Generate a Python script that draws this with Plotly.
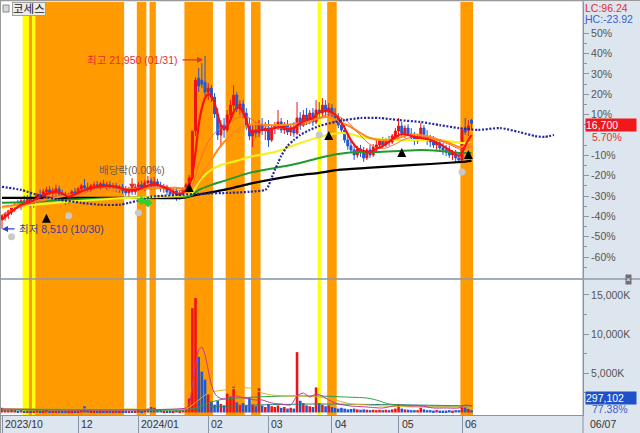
import plotly.graph_objects as go

# ---------------- data ----------------
BASE = 15800  # 0% reference price of the right axis

open_ = [9220, 9450, 9680, 9840, 10150, 10380, 10220, 10690, 10530, 10920,
         10460, 10770, 11150, 10920, 11390, 11540, 11310, 11460, 11620, 11230,
         11000, 10770, 11150, 11390, 11230, 11620, 11850, 11700, 11540, 11850,
         11930, 11770, 12010, 11850, 11930, 11770, 11850, 11620, 11770, 11460,
         11310, 11540, 11390, 11770, 11930, 11700, 12080, 12240, 11770, 12160,
         11850, 11620, 11770, 11390, 11230, 11460, 10920, 11310, 11620, 11930,
         12470, 16150, 20210, 20060, 19900, 19130, 19440, 18740, 17430, 15800,
         16570, 16190, 17350, 18120, 18900, 17890, 18200, 17500, 16570, 15720,
         16190, 15950, 16570, 16190, 16340, 15410, 16340, 16500, 16810, 16190,
         16570, 16030, 16420, 15950, 17120, 16570, 17350, 16960, 17500, 16810,
         17740, 17500, 18120, 17580, 17890, 17350, 17120, 16570, 16190, 15410,
         14950, 14640, 14250, 14720, 14410, 14020, 14640, 14250, 14870, 15030,
         15340, 15030, 15410, 15260, 15720, 16110, 16500, 15950, 16340, 15880,
         15570, 15340, 15650, 16340, 15720, 15410, 15260, 15030, 15180, 14790,
         14640, 14480, 14250, 14410, 14020, 13860, 16340, 16190, 16960]
high = [9600, 9840, 9990, 10300, 10530, 10770, 10920, 11080, 11150, 11230,
        11000, 11310, 11540, 11620, 11770, 11850, 11700, 11930, 11850, 11540,
        11390, 11310, 11540, 11700, 11770, 12010, 12390, 12080, 12010, 12160,
        12240, 12160, 12320, 12160, 12240, 12080, 12080, 11930, 12010, 11850,
        11770, 11930, 12010, 12160, 12240, 12320, 12620, 12470, 12550, 12390,
        12160, 12010, 11930, 11700, 11620, 11700, 11540, 11770, 12080, 12700,
        16100, 20290, 20990, 21380, 21950, 19830, 19670, 19050, 17890, 16960,
        17120, 17740, 18510, 19670, 19130, 18510, 18510, 17890, 17120, 16570,
        16810, 16960, 17120, 16810, 16960, 16570, 16810, 17740, 17120, 16810,
        16960, 16650, 16810, 18360, 17580, 17740, 17890, 17740, 17890, 18510,
        18360, 18670, 18510, 18280, 18200, 17890, 17500, 17120, 16570, 15800,
        15410, 15030, 14950, 15030, 14870, 14790, 15030, 15100, 15410, 15570,
        15650, 15570, 15720, 15880, 16340, 17120, 16810, 16570, 16650, 16340,
        16030, 15880, 16730, 16570, 16190, 15800, 15720, 15490, 15410, 15180,
        15030, 14950, 14640, 14640, 14410, 16340, 17120, 16960, 17040]
low = [8510, 9140, 9290, 9600, 9840, 10070, 9990, 10300, 10380, 10220,
       10150, 10530, 10770, 10690, 11080, 11150, 11000, 11150, 11080, 10840,
       10380, 10460, 10840, 11080, 11000, 11310, 11540, 11390, 11390, 11540,
       11620, 11540, 11700, 11540, 11620, 11460, 11390, 11310, 11230, 11080,
       11000, 11150, 11150, 11460, 11540, 11460, 11770, 11540, 11540, 11620,
       11390, 11310, 11150, 11000, 10920, 10690, 10770, 11080, 11460, 11770,
       12320, 15720, 19130, 19440, 18820, 18510, 18360, 17120, 15410, 14870,
       15570, 16030, 16960, 17740, 17580, 17350, 17120, 16190, 15410, 14870,
       15570, 15650, 15800, 15410, 14870, 15260, 15880, 16190, 15950, 15880,
       15800, 15720, 15650, 15800, 16190, 16420, 16570, 16650, 16500, 16650,
       17120, 17270, 17190, 17270, 17120, 16810, 16340, 15950, 15180, 14640,
       14410, 13860, 14020, 14100, 13710, 13860, 14020, 14100, 14480, 14720,
       14790, 14870, 14950, 15100, 15490, 15650, 15720, 15570, 15720, 15340,
       15030, 15100, 15410, 15410, 15030, 14870, 14790, 14640, 14480, 14250,
       14170, 14020, 13860, 13710, 13630, 13710, 15800, 15720, 16190]
close = [9530, 9680, 9910, 10150, 10380, 10220, 10690, 10530, 10920, 10460,
         10770, 11150, 10920, 11390, 11540, 11310, 11460, 11620, 11230, 11000,
         10770, 11150, 11390, 11230, 11620, 11850, 11700, 11540, 11850, 11930,
         11770, 12010, 11850, 11930, 11770, 11850, 11620, 11770, 11460, 11310,
         11540, 11390, 11770, 11930, 11700, 12080, 12240, 11770, 12160, 11850,
         11620, 11770, 11390, 11230, 11460, 10920, 11310, 11620, 11930, 12470,
         16100, 20060, 19600, 19750, 19130, 19440, 18740, 17430, 15800, 16570,
         16190, 17350, 18120, 18900, 17890, 18200, 17500, 16570, 15720, 16190,
         15950, 16570, 16190, 16340, 15410, 16340, 16500, 16810, 16190, 16570,
         16030, 16420, 15950, 17120, 16570, 17350, 16960, 17500, 16810, 17740,
         17500, 18120, 17580, 17890, 17350, 17120, 16570, 16190, 15410, 14950,
         14640, 14250, 14720, 14410, 14020, 14640, 14250, 14870, 15030, 15340,
         15030, 15410, 15260, 15720, 16110, 16500, 15950, 16340, 15880, 15570,
         15340, 15650, 16340, 15720, 15410, 15260, 15030, 15180, 14790, 14640,
         14480, 14250, 14410, 14020, 13860, 16190, 16030, 16500, 16700]
volume_k = [600, 350, 300, 400, 350, 250, 300, 200, 250, 200,
            250, 300, 200, 250, 300, 200, 180, 250, 200, 150,
            200, 180, 200, 150, 250, 350, 800, 300, 250, 200,
            150, 200, 180, 150, 150, 120, 150, 130, 150, 120,
            150, 200, 250, 300, 200, 400, 500, 700, 600, 400,
            300, 250, 200, 200, 180, 300, 250, 300, 500, 1800,
            13300, 14600, 7100, 5200, 4200, 2300, 1400, 1000, 1500, 1100,
            900, 2400, 2000, 3300, 1300, 1000, 1200, 900, 1900, 1000,
            800, 3100, 900, 700, 1100, 800, 700, 900, 600, 700,
            500, 600, 500, 7700, 1500, 1200, 900, 800, 700, 3200,
            1200, 1000, 800, 900, 700, 600, 500, 600, 500, 400,
            450, 500, 400, 350, 400, 350, 300, 350, 300, 350,
            300, 350, 300, 400, 500, 1000, 500, 400, 350, 300,
            300, 300, 600, 400, 300, 300, 250, 300, 250, 250,
            250, 300, 250, 300, 300, 800, 700, 450, 297.102]
days = list(range(len(close)))  # trading-day index, 0 = 2023/10/30

# month ticks (trading-day index) and their labels
month_idx = [0, 24, 43, 65, 84, 104, 125, 145]
month_labels = ["2023/10", "12", "2024/01", "02", "03", "04", "05", "06"]
last_date = "06/07"

# price moving averages (day index, price)
ma5_x = [0, 3, 6, 9, 12, 15, 18, 21, 24, 27, 30, 33, 36, 39, 42, 45, 48, 50, 53, 56, 58, 59, 60, 61, 62, 63, 64, 65,
         66, 67, 68, 69, 70, 71, 72, 73, 74, 75, 76, 77, 78, 79, 80, 82, 84, 86, 88, 90, 92, 94, 96, 98, 100, 102,
         104, 106, 108, 110, 112, 114, 116, 118, 120, 122, 124, 126, 128, 130, 132, 134, 136, 138, 140, 142, 144,
         145, 146, 147, 148]
ma5_y = [9220, 9840, 10380, 10610, 11000, 11310, 11390, 11000, 11310, 11620, 11770, 11850, 11770, 11540, 11540,
         11770, 12010, 11850, 11540, 11150, 11540, 11930, 12700, 14480, 16570, 17890, 18670, 18980, 18820, 18280,
         17350, 16570, 16340, 16500, 16960, 17580, 17890, 17890, 17580, 16960, 16190, 16030, 16110, 16190, 16190,
         16340, 16420, 16260, 16340, 16730, 16960, 17120, 17580, 17740, 17580, 17120, 16340, 15410, 14790, 14560,
         14480, 14720, 14950, 15260, 15650, 15880, 15800, 15650, 15570, 15490, 15340, 15100, 14790, 14480, 14170,
         14410, 14950, 15410, 15800]
ma10_x = [0, 5, 10, 15, 20, 25, 30, 35, 40, 45, 50, 55, 58, 60, 62, 64, 66, 68, 70, 72, 74, 76, 78, 80, 82, 85,
          88, 92, 96, 100, 103, 106, 109, 112, 115, 118, 121, 124, 127, 130, 133, 136, 139, 142, 145, 148]
ma10_y = [9600, 10150, 10530, 11000, 11150, 11230, 11620, 11770, 11620, 11700, 11850, 11540, 11460, 11930, 13480,
          14790, 15650, 16190, 16500, 16810, 17120, 17270, 17120, 16810, 16570, 16340, 16340, 16420, 16650, 17120,
          17430, 17270, 16810, 16030, 15260, 14790, 14790, 15100, 15490, 15650, 15650, 15490, 15260, 14950, 14640,
          14950]
ma20_x = [0, 5, 10, 15, 20, 25, 30, 35, 40, 45, 50, 55, 58, 60, 62, 64, 66, 68, 70, 72, 74, 76, 78, 80, 84, 88,
          92, 96, 100, 103, 106, 110, 113, 116, 119, 122, 125, 128, 132, 135, 138, 141, 144, 146, 148]
ma20_y = [10220, 10380, 10610, 10840, 11080, 11150, 11310, 11540, 11620, 11620, 11700, 11700, 11620, 11770, 12320,
          13090, 13860, 14640, 15260, 15720, 16190, 16420, 16570, 16650, 16570, 16570, 16650, 16810, 17120, 17190,
          16880, 16420, 15950, 15570, 15410, 15410, 15570, 15800, 15800, 15650, 15410, 15180, 14870, 14950, 15180]
ma60_x = [0, 10, 20, 30, 40, 50, 56, 58, 60, 61, 62, 64, 66, 69, 74, 78, 86, 94, 100, 106, 110, 113, 118, 125,
          132, 138, 145, 148]
ma60_y = [10150, 10380, 10610, 10770, 10920, 11000, 11080, 11150, 11310, 11700, 12160, 12700, 13090, 13480, 13790,
          14100, 14480, 15180, 15650, 15950, 15880, 15650, 15490, 15410, 15410, 15410, 15180, 15180]
ma120_x = [0, 10, 20, 30, 40, 50, 58, 60, 62, 66, 70, 78, 86, 94, 100, 106, 112, 118, 125, 132, 138, 144, 148]
ma120_y = [10530, 10610, 10770, 10840, 10920, 11000, 11000, 11150, 11540, 11930, 12240, 12860, 13240, 13630, 14020,
           14330, 14480, 14480, 14560, 14640, 14560, 14410, 14410]
ma240_x = [0, 20, 40, 57, 60, 65, 70, 78, 86, 94, 100, 106, 115, 125, 135, 145, 148]
ma240_y = [10920, 10920, 10920, 10920, 11080, 11310, 11540, 12010, 12390, 12700, 12860, 13090, 13240, 13400, 13550,
           13710, 13790]
lead_x = [0, 6, 12, 18, 25, 31, 37, 40, 44, 47, 51, 56, 62, 72, 78, 83, 84, 85, 86, 87, 88, 90, 92, 94, 97, 100,
          105, 108, 113, 119, 125, 132, 138, 144, 150, 157, 163, 168, 171, 174]
lead_y = [11770, 11540, 11080, 10770, 10530, 10380, 10380, 10530, 10770, 11000, 11080, 11150, 11230, 11310, 11390,
          11540, 11850, 12470, 13090, 13630, 14170, 14950, 15410, 15800, 16190, 16500, 16810, 16960, 17120, 17120,
          16960, 16810, 16570, 16340, 16190, 16340, 16030, 15720, 15650, 15800]

# volume moving averages (day index, K shares)
vma5_x = [0, 20, 40, 55, 58, 59, 60, 61, 62, 63, 64, 65, 66, 67, 68, 70, 72, 74, 76, 78, 80, 82, 85, 88, 91, 93,
          95, 97, 99, 101, 103, 106, 110, 115, 120, 125, 128, 132, 136, 140, 144, 146, 148]
vma5_y = [446, 319, 319, 446, 574, 957, 3508, 6059, 7972, 8355, 7334, 5421, 3508, 2487, 1977, 1722, 1977, 2105,
          1850, 1722, 1594, 1594, 1212, 1084, 957, 2105, 2487, 1977, 2360, 2105, 1594, 1084, 829, 702, 574, 957,
          829, 829, 574, 574, 574, 957, 829]
vma20_x = [0, 40, 58, 60, 62, 64, 66, 70, 74, 78, 80, 82, 85, 90, 95, 100, 105, 110, 115, 120, 130, 140, 148]
vma20_y = [446, 446, 446, 957, 1594, 2232, 2615, 2870, 3125, 3125, 2870, 2487, 2232, 2105, 2105, 1977, 1594, 1084,
           957, 829, 702, 702, 702]
vma60_x = [0, 40, 58, 62, 66, 70, 80, 90, 100, 108, 115, 118, 122, 126, 135, 148]
vma60_y = [319, 319, 319, 702, 1339, 1722, 1977, 2105, 2105, 1977, 1850, 1594, 1084, 957, 829, 829]
vma120_x = [0, 60, 65, 80, 100, 130, 148]
vma120_y = [446, 446, 702, 957, 1084, 957, 829]

# highlighted periods (first day, last day, kind)
bands = [(7, 8, "Y"), (9, 9, "O"), (10, 10, "Y"), (11, 38, "O"), (43, 45, "O"), (47, 48, "O"), (58, 66, "O"),
         (71, 76, "O"), (79, 81, "O"), (100, 100, "Y"), (103, 105, "O"), (145, 148, "O")]

# signal markers (day index, price)
buy_x = [14, 59, 103, 126, 147]
buy_y = [9680, 12080, 16110, 14790, 14640]
gray_x = [3, 21, 43, 100, 145]
gray_y = [7900, 9530, 9760, 15800, 12930]
green_x = [44, 46]
green_y = [10690, 10530]

hi_day, hi_price, hi_date = 64, 21950, "01/31"
lo_day, lo_price, lo_date = 0, 8510, "10/30"
div_day, div_label_price, div_tip_price = 41, 13090, 11540
lc_text, hc_text = "LC:96.24", "HC:-23.92"
pct_now = "5.70%"
vol_pct = "77.38%"

# ---------------- styles ----------------
RED = "#ec1414"
BLUE = "#1f58d6"
ORANGE_BAND = "#ff9a00"
YELLOW_BAND = "#ffff00"
AXC = "#8a96a6"
FONT = "Liberation Sans, Noto Sans CJK KR, sans-serif"

W, H = 640, 433
ML, MR, MT, MB = 1, 57, 2, 18
PH = H - MT - MB  # 413
PW = W - ML - MR  # 582


def py(pix):  # pixel row -> paper y
    return (H - MB - pix) / PH


def px(pix):  # pixel column -> paper x
    return (pix - ML) / PW


X0, X1 = -0.3152, 183.14
PRICE_RANGE = [BASE * (1 - 143.1 / 203.6), BASE * (1 + 133.1 / 203.6)]
VOL_RANGE = [-319, 16900]

fig = go.Figure()

# volume bars
vcol = [RED if c >= o else BLUE for o, c in zip(open_, close)]
fig.add_trace(go.Bar(x=days, y=volume_k, marker=dict(color=vcol, line=dict(width=0)), width=0.82,
                     xaxis="x", yaxis="y2", hoverinfo="skip"))
for xs, ys, col in [(vma120_x, vma120_y, "#2f7f7f"), (vma60_x, vma60_y, "#2e9e4e"),
                    (vma20_x, vma20_y, "#d9b41a"), (vma5_x, vma5_y, "#c8339a")]:
    fig.add_trace(go.Scatter(x=xs, y=ys, mode="lines", line=dict(color=col, width=1, shape="spline", smoothing=0.6),
                             xaxis="x", yaxis="y2", hoverinfo="skip"))

# long moving averages
for xs, ys, col, w in [(ma240_x, ma240_y, "#000000", 2.2), (ma120_x, ma120_y, "#1f9a2e", 2),
                       (ma60_x, ma60_y, "#f5f020", 2.2), (ma20_x, ma20_y, "#ff8a1e", 2),
                       (ma10_x, ma10_y, "#f46a3a", 1)]:
    fig.add_trace(go.Scatter(x=xs, y=ys, mode="lines", line=dict(color=col, width=w, shape="spline", smoothing=0.6),
                             xaxis="x", yaxis="y", hoverinfo="skip"))

# candles
fig.add_trace(go.Candlestick(x=days, open=open_, high=high, low=low, close=close,
                             increasing=dict(line=dict(color=RED, width=1), fillcolor=RED),
                             decreasing=dict(line=dict(color=BLUE, width=1), fillcolor=BLUE),
                             whiskerwidth=0, xaxis="x", yaxis="y", hoverinfo="skip"))

# 5-day MA
fig.add_trace(go.Scatter(x=ma5_x, y=ma5_y, mode="lines",
                         line=dict(color="#ff1010", width=2.2, shape="spline", smoothing=0.6),
                         xaxis="x", yaxis="y", hoverinfo="skip"))
# leading span (dotted)
fig.add_trace(go.Scatter(x=lead_x, y=lead_y, mode="lines",
                         line=dict(color="#26269a", width=2.2, dash="2px,1.6px", shape="spline", smoothing=0.6),
                         xaxis="x", yaxis="y", hoverinfo="skip"))

# signal markers
fig.add_trace(go.Scatter(x=gray_x, y=gray_y, mode="markers",
                         marker=dict(symbol="circle", size=7, color="#c9c9c9"), xaxis="x", yaxis="y"))
fig.add_trace(go.Scatter(x=green_x, y=green_y, mode="markers",
                         marker=dict(symbol="diamond", size=7, color="#2ed12e"), xaxis="x", yaxis="y"))
fig.add_trace(go.Scatter(x=buy_x, y=buy_y, mode="markers",
                         marker=dict(symbol="arrow-up", size=9, color="#000000"), xaxis="x", yaxis="y"))

# ---------------- shapes ----------------
shapes = []
for d0, d1, kind in bands:
    shapes.append(dict(type="rect", xref="x", yref="paper", x0=d0 - 0.5, x1=d1 + 0.5, y0=0, y1=1,
                       fillcolor=YELLOW_BAND if kind == "Y" else ORANGE_BAND, line=dict(width=0), layer="below"))
# frame lines
shapes += [
    dict(type="line", xref="paper", yref="paper", x0=px(0.5), x1=px(640), y0=py(0.5), y1=py(0.5),
         line=dict(color="#9a9a9a", width=1)),
    dict(type="line", xref="paper", yref="paper", x0=px(0.5), x1=px(0.5), y0=py(433), y1=py(0),
         line=dict(color="#9a9a9a", width=1)),
    dict(type="line", xref="paper", yref="paper", x0=px(0), x1=px(640), y0=py(279), y1=py(279),
         line=dict(color="#8f9aa8", width=1.5)),
    dict(type="line", xref="paper", yref="paper", x0=1, x1=1, y0=py(433), y1=py(0),
         line=dict(color=AXC, width=1)),
    dict(type="rect", xref="paper", yref="paper", x0=px(3), x1=px(9), y0=py(12), y1=py(5),
         fillcolor="#d8d8d8", line=dict(color="#8a8a8a", width=1)),
]

# ---------------- annotations ----------------
SMALL = 10.5
ann = []
for d, lab in zip(month_idx, month_labels):
    ann.append(dict(x=d, xref="x", y=py(424), yref="paper", text=lab, showarrow=False, xanchor="left",
                    xshift=1, yanchor="middle", font=dict(size=SMALL, color="#333333")))
ann.append(dict(x=1, xref="paper", y=py(424), yref="paper", text=last_date, showarrow=False, xanchor="left",
                xshift=5, yanchor="middle", font=dict(size=SMALL, color="#333333")))
ann.append(dict(x=px(12), xref="paper", y=py(9), yref="paper", text="코세스", showarrow=False, xanchor="left",
                yanchor="middle", bgcolor="#ececec", bordercolor="#a0a0a0", borderwidth=1, borderpad=0,
                font=dict(size=11.5, color="#222222")))
ann.append(dict(x=1, xref="paper", y=py(8), yref="paper", text=lc_text, showarrow=False, xanchor="left",
                xshift=0, yanchor="middle", font=dict(size=SMALL, color="#e23030")))
ann.append(dict(x=1, xref="paper", y=py(19), yref="paper", text=hc_text, showarrow=False, xanchor="left",
                xshift=0, yanchor="middle", font=dict(size=SMALL, color="#3a5fcf")))
ann.append(dict(x=1, xref="paper", y=py(125), yref="paper", text=f"{close[-1]:,}", showarrow=False,
                xanchor="left", xshift=2, yanchor="middle", bgcolor="#f01818", width=50, height=12,
                align="left", borderpad=0, font=dict(size=SMALL, color="#ffffff")))
ann.append(dict(x=1, xref="paper", y=py(137), yref="paper", text=pct_now, showarrow=False, xanchor="left",
                xshift=7, yanchor="middle", font=dict(size=SMALL, color="#e23030")))
ann.append(dict(x=1, xref="paper", y=py(398), yref="paper", text=f"{round(volume_k[-1] * 1000):,}",
                showarrow=False, xanchor="left", xshift=2, yanchor="middle", bgcolor="#1f50c8", width=50,
                height=12, align="left", borderpad=0, font=dict(size=SMALL, color="#ffffff")))
ann.append(dict(x=1, xref="paper", y=py(409), yref="paper", text=vol_pct, showarrow=False, xanchor="left",
                xshift=7, yanchor="middle", font=dict(size=SMALL, color="#3a5fcf")))
ann.append(dict(x=px(632), xref="paper", y=py(285), yref="paper", text="×", showarrow=False,
                bgcolor="#707070", font=dict(size=8, color="#ffffff"), borderpad=0))
# high
ann.append(dict(x=hi_day, y=hi_price, xref="x", yref="y", text="", showarrow=True, ax=-22, ay=0,
                arrowhead=2, arrowsize=1, arrowwidth=1.2, arrowcolor="#e23030", yshift=-4, xshift=-2))
ann.append(dict(x=hi_day, y=hi_price, xref="x", yref="y", text=f"최고 {hi_price:,} ({hi_date})", showarrow=False,
                xanchor="right", xshift=-25, yshift=-4, yanchor="middle", font=dict(size=SMALL, color="#e23030")))
# low
ann.append(dict(x=lo_day, y=lo_price, xref="x", yref="y", text="", showarrow=True, ax=14, ay=0,
                arrowhead=2, arrowsize=1, arrowwidth=1.2, arrowcolor="#2f3fd0"))
ann.append(dict(x=lo_day, y=lo_price, xref="x", yref="y", text=f"최저 {lo_price:,} ({lo_date})", showarrow=False,
                xanchor="left", xshift=15, yanchor="middle", font=dict(size=SMALL, color="#3b3b9a")))
# dividend
ann.append(dict(x=div_day, y=div_tip_price, xref="x", yref="y", text="", showarrow=True, ax=0, ay=-13,
                arrowhead=2, arrowsize=1, arrowwidth=1.2, arrowcolor="#e23030"))
ann.append(dict(x=div_day, y=div_label_price, xref="x", yref="y", text="배당락(0.00%)", showarrow=False,
                xanchor="center", yanchor="middle", font=dict(size=SMALL, color="#6e604f")))

pct_ticks = [-60, -50, -40, -30, -20, -10, 10, 20, 30, 40, 50]
fig.update_layout(
    width=W, height=H, margin=dict(l=ML, r=MR, t=MT, b=MB, autoexpand=False),
    paper_bgcolor="#dde5ee", plot_bgcolor="#ffffff",
    showlegend=False, boxgap=0.12, bargap=0.2,
    font=dict(family=FONT, size=SMALL, color="#555555"),
    xaxis=dict(range=[X0, X1], anchor="y2", showticklabels=False, ticks="outside", ticklen=18,
               tickcolor=AXC, tickvals=month_idx, showline=True, linecolor=AXC, showgrid=False,
               zeroline=False, rangeslider=dict(visible=False), fixedrange=True, automargin=False),
    yaxis=dict(domain=[py(278), 1], range=PRICE_RANGE, side="right", anchor="x", showgrid=False,
               zeroline=False, showline=True, linecolor=AXC, ticks="outside", ticklen=5, tickcolor=AXC,
               tickvals=[BASE * (1 + k / 100) for k in pct_ticks], ticktext=[f"{k}%" for k in pct_ticks],
               tickfont=dict(size=SMALL, color="#555555"), automargin=False,
               minor=dict(tickvals=[BASE * (1 + k / 100) for k in range(-65, 60, 10)], ticks="outside",
                          ticklen=3, tickcolor=AXC)),
    yaxis2=dict(domain=[0, py(280)], range=VOL_RANGE, side="right", anchor="x", showgrid=False,
                zeroline=False, showline=True, linecolor=AXC, ticks="outside", ticklen=5, tickcolor=AXC,
                tickvals=[5000, 10000, 15000], ticktext=["5,000K", "10,000K", "15,000K"],
                tickfont=dict(size=SMALL, color="#555555"), automargin=False,
                minor=dict(tickvals=[2500, 7500, 12500], ticks="outside", ticklen=3, tickcolor=AXC)),
    shapes=shapes, annotations=ann,
)

fig.write_html("out.html", config={"displayModeBar": False},
               post_script="document.body.style.margin='0';document.body.style.padding='0';"
                           "document.documentElement.style.overflow='hidden';")
